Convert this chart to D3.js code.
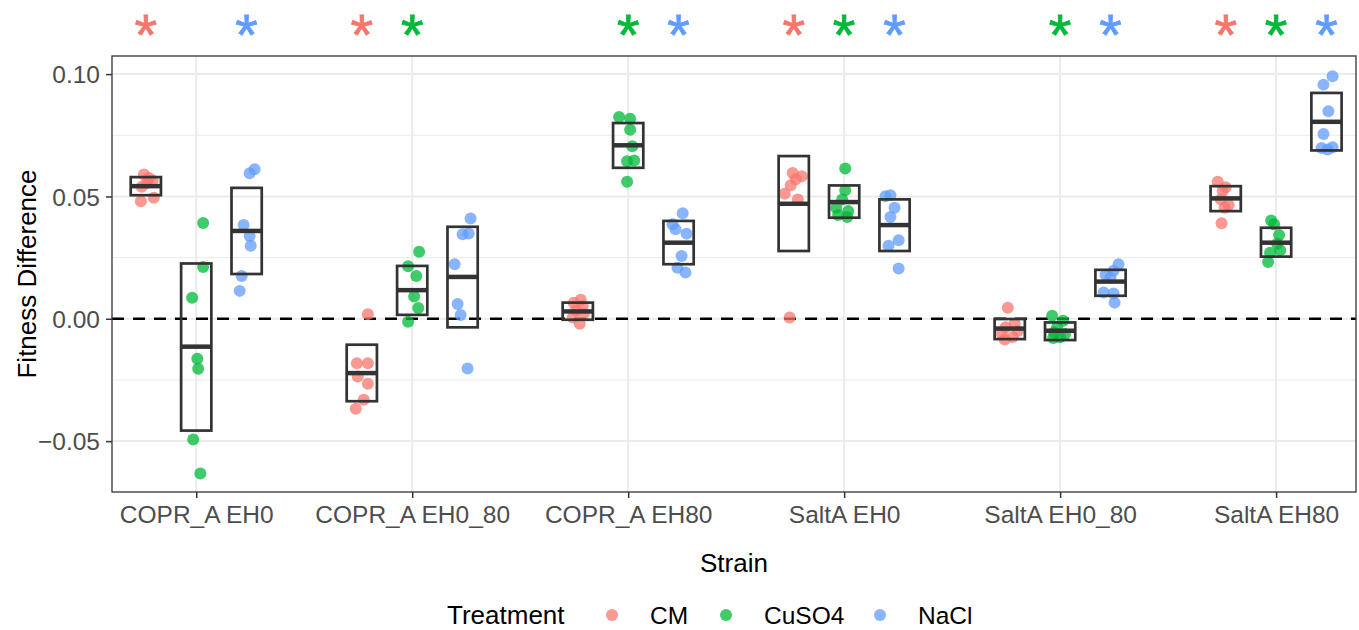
<!DOCTYPE html>
<html>
<head>
<meta charset="utf-8">
<script src="https://cdn.jsdelivr.net/npm/d3@7"></script>
<style>
  body { margin: 0; background: #fff; }
  svg { display: block; font-family: "Liberation Sans", Arial, sans-serif; }
  .tick-label { fill: #4d4d4d; font-size: 24.5px; }
  .title { fill: #000; font-size: 26px; }
  .legend-label { fill: #000; font-size: 24.5px; }
</style>
</head>
<body>
<div id="chart"></div>
<script>
const strains = ["COPR_A EH0", "COPR_A EH0_80", "COPR_A EH80", "SaltA EH0", "SaltA EH0_80", "SaltA EH80"];
const treatments = ["CM", "CuSO4", "NaCl"];
const treatmentColors = ["#F8766D", "#00BA38", "#619CFF"];
const yTicks = [-0.05, 0, 0.05, 0.10];
const yMinor = [-0.025, 0.025, 0.075];

// replicate values per strain (one list per treatment)
const cmValues = [
  [0.0590, 0.0575, 0.0565, 0.0555, 0.0540, 0.0495, 0.0480],
  [0.0019, -0.0182, -0.0182, -0.0236, -0.0266, -0.0331, -0.0368],
  [0.0078, 0.0065, 0.0052, 0.0035, 0.0020, 0.0005, -0.0020],
  [0.0596, 0.0583, 0.0570, 0.0546, 0.0511, 0.0488, 0.0005],
  [0.0045, -0.0020, -0.0035, -0.0050, -0.0060, -0.0075, -0.0085],
  [0.0560, 0.0538, 0.0522, 0.0488, 0.0465, 0.0454, 0.0390]
];
const cuso4Values = [
  [0.0391, 0.0212, 0.0086, -0.0163, -0.0204, -0.0493, -0.0632],
  [0.0274, 0.0215, 0.0175, 0.0091, 0.0044, -0.0012],
  [0.0825, 0.0818, 0.0773, 0.0705, 0.0647, 0.0644, 0.0560],
  [0.0614, 0.0525, 0.0488, 0.0454, 0.0440, 0.0424, 0.0416],
  [0.0012, -0.0008, -0.0035, -0.0056, -0.0062, -0.0076, -0.0079],
  [0.0402, 0.0386, 0.0342, 0.0307, 0.0280, 0.0270, 0.0232]
];
const naclValues = [
  [0.0611, 0.0595, 0.0383, 0.0338, 0.0298, 0.0175, 0.0114],
  [0.0410, 0.0349, 0.0345, 0.0223, 0.0060, 0.0015, -0.0203],
  [0.0431, 0.0386, 0.0366, 0.0348, 0.0257, 0.0209, 0.0189],
  [0.0505, 0.0501, 0.0454, 0.0416, 0.0321, 0.0298, 0.0205],
  [0.0223, 0.0196, 0.0180, 0.0168, 0.0107, 0.0103, 0.0066],
  [0.0991, 0.0957, 0.0848, 0.0755, 0.0701, 0.0698, 0.0692]
];

// horizontal jitter of each replicate, in category units
const cmJitter = [
  [-0.009, 0.014, 0.032, 0.005, -0.019, 0.037, -0.023],
  [0.028, -0.023, 0.028, -0.019, 0.028, 0.009, -0.028],
  [0.014, -0.019, 0.023, -0.009, 0.028, -0.023, 0.009],
  [-0.005, 0.037, 0.009, -0.014, -0.042, 0.019, -0.019],
  [-0.009, 0.023, -0.019, 0.037, -0.037, 0.014, -0.023],
  [-0.037, 0, -0.014, -0.023, 0.014, -0.005, -0.019]
];
const cuso4Jitter = [
  [0.032, 0.032, -0.019, 0.005, 0.009, -0.014, 0.019],
  [0.032, -0.019, 0.019, 0.009, 0.028, -0.019],
  [-0.042, 0.009, 0.009, 0.019, 0.028, -0.005, -0.005],
  [0.005, 0.005, -0.009, -0.037, 0.019, -0.028, 0.014],
  [-0.037, 0.014, -0.014, -0.028, 0.023, 0, -0.032],
  [-0.023, -0.009, 0.014, 0.005, 0.019, -0.028, -0.037]
];
const naclJitter = [
  [0.037, 0.014, -0.014, 0.014, 0.019, -0.023, -0.032],
  [0.037, 0.028, 0, -0.037, -0.023, -0.009, 0.023],
  [0.019, -0.028, -0.014, 0.037, 0.014, -0.005, 0.032],
  [-0.019, -0.042, 0, -0.019, 0.019, -0.028, 0.019],
  [0.037, 0.014, -0.023, 0, -0.032, 0.014, 0.019],
  [0.028, -0.014, 0.009, -0.014, 0.028, -0.023, 0.005]
];

// crossbar summaries: mean, lower, upper
const cmMean = [0.0542, -0.0222, 0.0030, 0.0470, -0.0040, 0.0492];
const cmLower = [0.0505, -0.0337, -0.0004, 0.0277, -0.0083, 0.0440];
const cmUpper = [0.0579, -0.0106, 0.0066, 0.0665, -0.0001, 0.0542];
const cuso4Mean = [-0.0114, 0.0117, 0.0709, 0.0477, -0.0049, 0.0311];
const cuso4Lower = [-0.0457, 0.0016, 0.0617, 0.0413, -0.0087, 0.0254];
const cuso4Upper = [0.0226, 0.0216, 0.0800, 0.0545, -0.0015, 0.0372];
const naclMean = [0.0359, 0.0171, 0.0311, 0.0383, 0.0152, 0.0805];
const naclLower = [0.0183, -0.0035, 0.0223, 0.0277, 0.0094, 0.0688];
const naclUpper = [0.0535, 0.0376, 0.0400, 0.0488, 0.0200, 0.0923];

// significance stars per strain
const significant = [
  ["CM", "NaCl"],
  ["CM", "CuSO4"],
  ["CuSO4", "NaCl"],
  ["CM", "CuSO4", "NaCl"],
  ["CuSO4", "NaCl"],
  ["CM", "CuSO4", "NaCl"]
];

const width = 1359;
const height = 630;
const panel = { left: 112, right: 1356, top: 56, bottom: 492 };
const dodge = 0.7 / 3;
const boxHalf = 0.07;

const values = [cmValues, cuso4Values, naclValues];
const jitters = [cmJitter, cuso4Jitter, naclJitter];
const means = [cmMean, cuso4Mean, naclMean];
const lowers = [cmLower, cuso4Lower, naclLower];
const uppers = [cmUpper, cuso4Upper, naclUpper];

const points = [];
const bars = [];
treatments.forEach((t, ti) => {
  strains.forEach((s, si) => {
    values[ti][si].forEach((v, k) => {
      points.push({ treatment: t, strain: si, offset: (ti - 1) * dodge + jitters[ti][si][k], value: v });
    });
    bars.push({ treatment: t, strain: si, offset: (ti - 1) * dodge,
      mean: means[ti][si], lower: lowers[ti][si], upper: uppers[ti][si] });
  });
});

const color = d3.scaleOrdinal().domain(treatments).range(treatmentColors);

const x = d3.scaleLinear()
  .domain([-0.39, strains.length - 1 + 0.37])
  .range([panel.left, panel.right]);

const y = d3.scaleLinear()
  .domain([-0.0708, 0.1074])
  .range([panel.bottom, panel.top]);

const svg = d3.select("#chart")
  .append("svg")
  .attr("width", width)
  .attr("height", height);

// grid
svg.append("g")
  .selectAll("line")
  .data(yMinor)
  .join("line")
  .attr("x1", panel.left).attr("x2", panel.right)
  .attr("y1", d => y(d)).attr("y2", d => y(d))
  .attr("stroke", "#ebebeb").attr("stroke-width", 1);

svg.append("g")
  .selectAll("line")
  .data(yTicks)
  .join("line")
  .attr("x1", panel.left).attr("x2", panel.right)
  .attr("y1", d => y(d)).attr("y2", d => y(d))
  .attr("stroke", "#ebebeb").attr("stroke-width", 2);

svg.append("g")
  .selectAll("line")
  .data(strains)
  .join("line")
  .attr("x1", (d, i) => x(i)).attr("x2", (d, i) => x(i))
  .attr("y1", panel.top).attr("y2", panel.bottom)
  .attr("stroke", "#ebebeb").attr("stroke-width", 2);

// zero reference
svg.append("line")
  .attr("x1", panel.left).attr("x2", panel.right)
  .attr("y1", y(0)).attr("y2", y(0))
  .attr("stroke", "#000")
  .attr("stroke-width", 2.5)
  .attr("stroke-dasharray", "12,9");

// points
svg.append("g")
  .selectAll("circle")
  .data(points)
  .join("circle")
  .attr("cx", d => x(d.strain + d.offset))
  .attr("cy", d => y(d.value))
  .attr("r", 6)
  .attr("fill", d => color(d.treatment))
  .attr("fill-opacity", 0.75);

// crossbars
const bar = svg.append("g")
  .selectAll("g")
  .data(bars)
  .join("g");

bar.append("rect")
  .attr("x", d => x(d.strain + d.offset - boxHalf))
  .attr("width", d => x(d.strain + d.offset + boxHalf) - x(d.strain + d.offset - boxHalf))
  .attr("y", d => y(d.upper))
  .attr("height", d => y(d.lower) - y(d.upper))
  .attr("fill", "none")
  .attr("stroke", "#333")
  .attr("stroke-width", 2.7);

bar.append("line")
  .attr("x1", d => x(d.strain + d.offset - boxHalf))
  .attr("x2", d => x(d.strain + d.offset + boxHalf))
  .attr("y1", d => y(d.mean))
  .attr("y2", d => y(d.mean))
  .attr("stroke", "#333")
  .attr("stroke-width", 4.5);

// panel border
svg.append("rect")
  .attr("x", panel.left).attr("y", panel.top)
  .attr("width", panel.right - panel.left)
  .attr("height", panel.bottom - panel.top)
  .attr("fill", "none")
  .attr("stroke", "#333")
  .attr("stroke-width", 1.3);

// y axis
const yAxis = svg.append("g")
  .attr("transform", `translate(${panel.left},0)`)
  .call(d3.axisLeft(y).tickValues(yTicks).tickSize(6).tickPadding(6)
    .tickFormat(d3.format(".2f")));
yAxis.select(".domain").remove();
yAxis.selectAll(".tick line").attr("stroke", "#333").attr("stroke-width", 1.5);
yAxis.selectAll(".tick text")
  .attr("class", "tick-label")
  .attr("font-family", null)
  .attr("font-size", null)
  .attr("fill", null)
  .attr("dy", "0.35em");

// x axis
const xAxis = svg.append("g")
  .attr("transform", `translate(0,${panel.bottom})`)
  .call(d3.axisBottom(x).tickValues(d3.range(strains.length)).tickSize(6).tickPadding(8)
    .tickFormat(i => strains[i]));
xAxis.select(".domain").remove();
xAxis.selectAll(".tick line").attr("stroke", "#333").attr("stroke-width", 1.5);
xAxis.selectAll(".tick text")
  .attr("class", "tick-label")
  .attr("font-family", null)
  .attr("font-size", null)
  .attr("fill", null)
  .attr("dy", "0.71em");

// titles
svg.append("text")
  .attr("class", "title")
  .attr("x", (panel.left + panel.right) / 2)
  .attr("y", 572)
  .attr("text-anchor", "middle")
  .text("Strain");

svg.append("text")
  .attr("class", "title")
  .attr("transform", `translate(36,${(panel.top + panel.bottom) / 2}) rotate(-90)`)
  .attr("text-anchor", "middle")
  .text("Fitness Difference");

// significance stars
const stars = [];
significant.forEach((list, si) => {
  list.forEach(t => stars.push({ strain: si, treatment: t }));
});
svg.append("g")
  .selectAll("text")
  .data(stars)
  .join("text")
  .attr("x", d => x(d.strain + (treatments.indexOf(d.treatment) - 1) * dodge))
  .attr("y", 55)
  .attr("text-anchor", "middle")
  .attr("font-size", 58)
  .attr("fill", d => color(d.treatment))
  .attr("stroke", d => color(d.treatment))
  .attr("stroke-width", 0.8)
  .text("*");

// legend
const legend = svg.append("g").attr("transform", "translate(0,624)");
legend.append("text")
  .attr("class", "title")
  .attr("x", 447)
  .text("Treatment");

const legendX = [612, 726, 880];
const item = legend.selectAll(".item")
  .data(treatments)
  .join("g")
  .attr("class", "item")
  .attr("transform", (d, i) => `translate(${legendX[i]},0)`);
item.append("circle")
  .attr("cx", 0)
  .attr("cy", -9)
  .attr("r", 6)
  .attr("fill", d => color(d))
  .attr("fill-opacity", 0.75);
item.append("text")
  .attr("class", "legend-label")
  .attr("x", 38)
  .text(d => d);
</script>
</body>
</html>
